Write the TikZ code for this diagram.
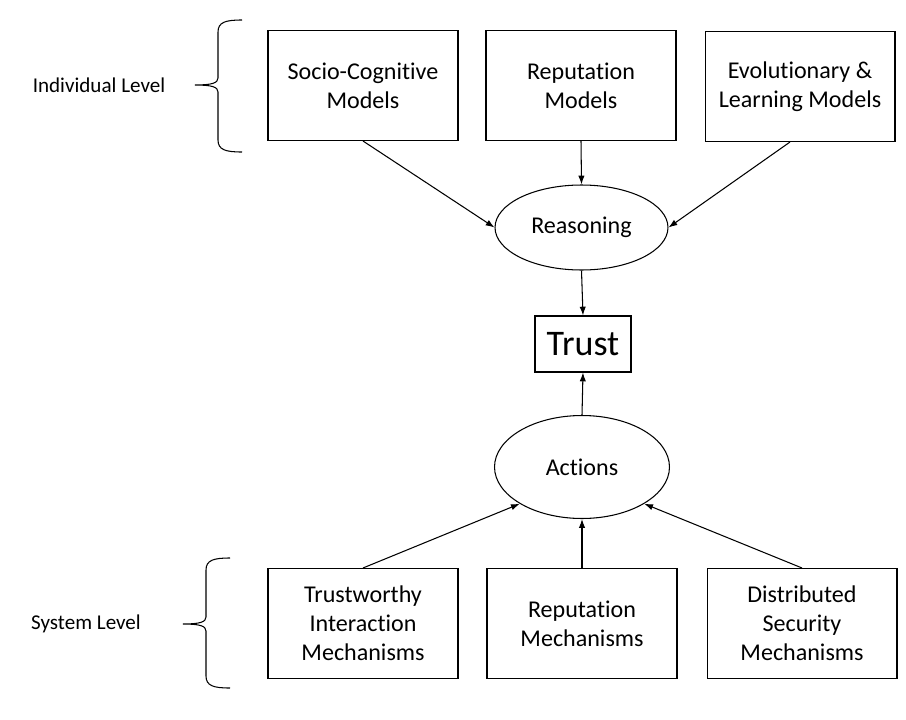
\documentclass[tikz,border=0pt]{standalone}
\usepackage{fontspec}
\setmainfont[Ligatures=CommonOff]{Carlito}
\usetikzlibrary{shapes.geometric,arrows.meta}
\begin{document}
\begin{tikzpicture}[x=0.02cm,y=-0.02cm,
  model/.style={draw,line width=0.6pt,minimum width=3.8cm,minimum height=2.2cm,inner sep=0pt,align=center,font=\fontsize{13.7}{16.5}\selectfont},
  oval/.style={draw,ellipse,line width=0.6pt,inner sep=0pt,font=\fontsize{13.7}{16.5}\selectfont},
  arr/.style={line width=0.6pt,-{Latex[length=5pt,width=3.6pt]}},
  level/.style={font=\fontsize{12}{14}\selectfont}]
\useasboundingbox (0,0) rectangle (906,720);
\node[model] (socio) at (363,85.5) {Socio-Cognitive\\Models};
\node[model] (repmod) at (581,85.5) {Reputation\\Models};
\node[model] (evol) at (800,86.5) {Evolutionary \&\\Learning Models};
\node[oval,minimum width=3.46cm,minimum height=1.7cm] (reason) at (581.5,227.5) {Reasoning};
\node[draw,line width=0.6pt,minimum width=1.92cm,minimum height=1.12cm,inner sep=0pt,font=\fontsize{20.5}{24}\selectfont] (trust) at (583,344) {Trust};
\node[oval,minimum width=3.5cm,minimum height=2.06cm] (actions) at (582,467) {Actions};
\node[model] (trustw) at (363,623.5) {Trustworthy\\Interaction\\Mechanisms};
\node[model] (repmech) at (582,623.5) {Reputation\\Mechanisms};
\node[model] (distsec) at (802,623.5) {Distributed\\Security\\Mechanisms};
\node[level] (indiv) at (99,85) {Individual Level};
\node[level] (system) at (86,624) {System Level};
% arrows
\draw[arr] (socio.south) -- (reason.west);
\draw[arr] (repmod.south) -- (reason.north);
\draw[arr] ([xshift=-0.2cm]evol.south) -- (reason.east);
\draw[arr] (reason.south) -- (trust.north);
\draw[arr] (actions.north) -- (trust.south);
\draw[arr] (trustw.north) -- (actions.south west);
\draw[arr] (repmech.north) -- (actions.south);
\draw[arr] (distsec.north) -- (actions.south east);
% braces
\draw[line width=0.6pt] (242,20) .. controls (226,20) and (218,22) .. (218,32) -- (218,78)
  .. controls (218,83) and (212,85) .. (195,85) .. controls (212,85) and (218,87) .. (218,92)
  -- (218,140) .. controls (218,150) and (226,152) .. (242,152);
\draw[line width=0.6pt] (230,558) .. controls (214,558) and (206,560) .. (206,570) -- (206,617)
  .. controls (206,622) and (200,624) .. (183,624) .. controls (200,624) and (206,626) .. (206,631)
  -- (206,676) .. controls (206,686) and (214,688) .. (230,688);
\end{tikzpicture}
\end{document}
